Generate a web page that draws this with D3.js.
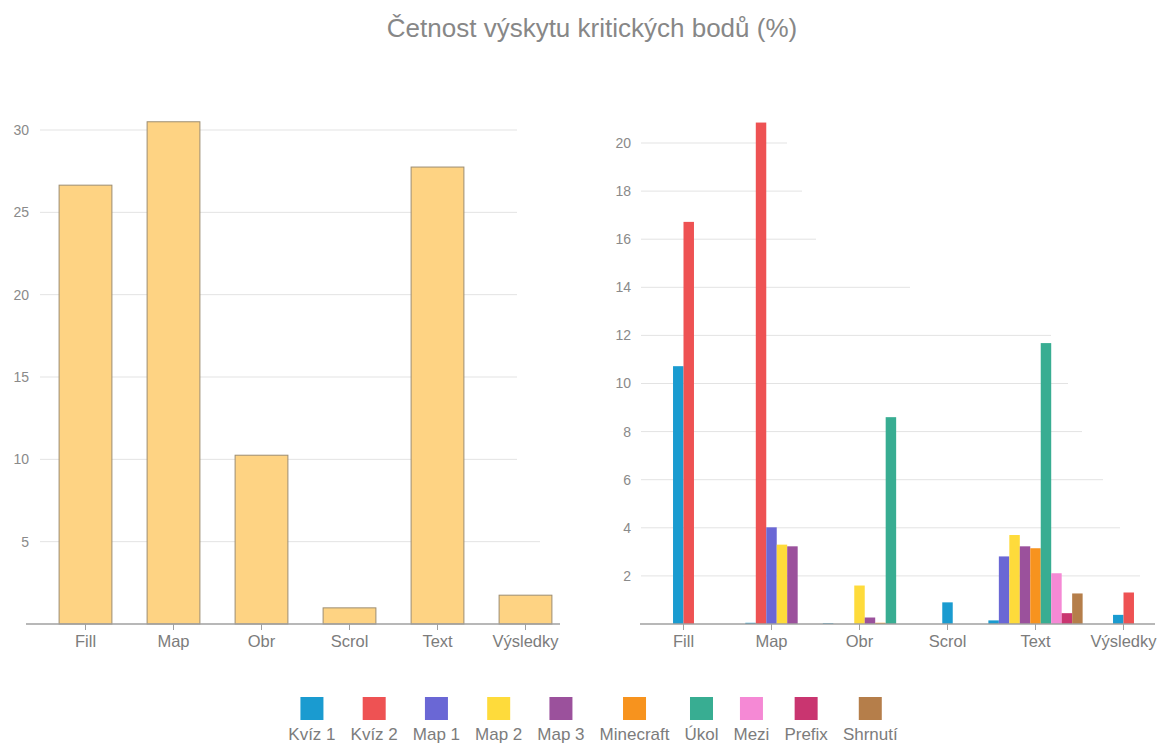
<!DOCTYPE html>
<html>
<head>
<meta charset="utf-8">
<script src="https://cdn.jsdelivr.net/npm/d3@7"></script>
<style>
  body { margin: 0; background: #fff; }
  text { font-family: "Liberation Sans", Arial, sans-serif; }
</style>
</head>
<body>
<div id="chart"></div>
<script>
const title = "Četnost výskytu kritických bodů (%)";
const categories = ["Fill", "Map", "Obr", "Scrol", "Text", "Výsledky"];

// left chart: total share per category
const totals = [26.65, 30.5, 10.25, 0.98, 27.75, 1.75];
const leftTicks = [5, 10, 15, 20, 25, 30];

// right chart: one row per category, null = series not present in that group
const seriesNames = ["Kvíz 1", "Kvíz 2", "Map 1", "Map 2", "Map 3", "Minecraft", "Úkol", "Mezi", "Prefix", "Shrnutí"];
const seriesColors = ["#1a9bd0", "#ee5253", "#6a67d5", "#fedb3b", "#9b519c", "#f7931e", "#38ad92", "#f589d5", "#c93570", "#b57e4a"];
const fillValues =     [10.72, 16.72, null, null, null, null, null, null, null, null];
const mapValues =      [0.05, 20.85, 4.02, 3.3, 3.23, null, null, null, null, null];
const obrValues =      [0.03, 0, 0, 1.6, 0.27, 0.05, 8.6, null, null, null];
const scrolValues =    [0.9, null, null, null, null, null, null, null, null, null];
const textValues =     [0.15, null, 2.81, 3.7, 3.23, 3.15, 11.68, 2.11, 0.45, 1.27];
const vysledkyValues = [0.38, 1.31, null, null, null, null, null, null, null, null];
const rightTicks = [2, 4, 6, 8, 10, 12, 14, 16, 18, 20];

const groups = [fillValues, mapValues, obrValues, scrolValues, textValues, vysledkyValues];

// gridline right ends (px), they are uneven in the original
const leftGridEnd = {5: 540, 10: 517, 15: 517, 20: 517, 25: 517, 30: 517};
const rightGridEnd = {2: 1140, 4: 1120, 6: 1103, 8: 1082, 10: 1068, 12: 1051, 14: 910, 16: 816, 18: 802, 20: 787};

const W = 1163, H = 745;
const svg = d3.select("#chart").append("svg")
    .attr("width", W)
    .attr("height", H);

svg.append("text")
    .attr("x", 592)
    .attr("y", 37)
    .attr("text-anchor", "middle")
    .style("font-size", "26px")
    .style("fill", "#878787")
    .text(title);

const baseY = 624;
const gridColor = "#e3e3e3";
const axisColor = "#a0a0a0";
const labelColor = "#7c7c7c";

function drawAxes(x, y, ticks, gridStart, gridEnd, labelX, baseStart, baseEnd) {
    svg.append("g").selectAll("line")
        .data(ticks)
        .enter().append("line")
        .attr("x1", gridStart)
        .attr("x2", d => gridEnd[d])
        .attr("y1", d => y(d))
        .attr("y2", d => y(d))
        .style("stroke", gridColor)
        .style("stroke-width", 1);

    svg.append("g").selectAll("text")
        .data(ticks)
        .enter().append("text")
        .attr("x", labelX)
        .attr("y", d => y(d))
        .attr("dy", "0.35em")
        .attr("text-anchor", "end")
        .style("font-size", "14px")
        .style("fill", "#8a8a8a")
        .text(d => d);

    return function() {
        svg.append("line")
            .attr("x1", baseStart).attr("x2", baseEnd)
            .attr("y1", baseY).attr("y2", baseY)
            .style("stroke", axisColor)
            .style("stroke-width", 1.5);

        const g = svg.append("g").selectAll("g")
            .data(categories)
            .enter().append("g")
            .attr("transform", d => `translate(${x(d) + x.bandwidth() / 2}, ${baseY})`);
        g.append("line")
            .attr("y1", 0).attr("y2", 6)
            .style("stroke", axisColor);
        g.append("text")
            .attr("y", 23)
            .attr("text-anchor", "middle")
            .style("font-size", "16.5px")
            .style("fill", labelColor)
            .text(d => d);
    };
}

// ---- left chart
const xLeft = d3.scaleBand().domain(categories).range([41.5, 569.5]).paddingInner(0.4).paddingOuter(0.2);
const yLeft = d3.scaleLinear().domain([0, 30]).range([baseY, 130]);
const finishLeft = drawAxes(xLeft, yLeft, leftTicks, 40, leftGridEnd, 29, 26, 560);

svg.append("g").selectAll("rect")
    .data(totals)
    .enter().append("rect")
    .attr("x", (d, i) => xLeft(categories[i]))
    .attr("y", d => yLeft(d))
    .attr("width", xLeft.bandwidth())
    .attr("height", d => baseY - yLeft(d))
    .style("fill", "#fed383")
    .style("stroke", "#9c8d72")
    .style("stroke-width", 1);
finishLeft();

// ---- right chart
const xRight = d3.scaleBand().domain(categories).range([639.5, 1167.5]);
const yRight = d3.scaleLinear().domain([0, 20]).range([baseY, 143]);
const finishRight = drawAxes(xRight, yRight, rightTicks, 641, rightGridEnd, 631, 640, 1155);
const barW = xRight.step() * 0.119;

groups.forEach((vals, gi) => {
    const present = seriesNames.filter((s, si) => vals[si] !== null);
    const cx = xRight(categories[gi]) + xRight.bandwidth() / 2;
    const inner = d3.scaleBand().domain(present)
        .range([cx - present.length * barW / 2, cx + present.length * barW / 2]);
    svg.append("g").selectAll("rect")
        .data(present)
        .enter().append("rect")
        .attr("x", d => inner(d))
        .attr("y", d => yRight(vals[seriesNames.indexOf(d)]))
        .attr("width", inner.bandwidth())
        .attr("height", d => baseY - yRight(vals[seriesNames.indexOf(d)]))
        .style("fill", d => seriesColors[seriesNames.indexOf(d)]);
});
finishRight();

// ---- legend
const legend = svg.append("g");
const items = legend.selectAll("g")
    .data(seriesNames)
    .enter().append("g");
items.append("text")
    .attr("y", 740)
    .attr("text-anchor", "middle")
    .style("font-size", "17px")
    .style("fill", labelColor)
    .text(d => d);

let widths = [];
items.select("text").each(function() { widths.push(this.getComputedTextLength()); });
const gap = 15;
const total = d3.sum(widths) + gap * (widths.length - 1);
let cursor = 593 - total / 2;
items.each(function(d, i) {
    const c = cursor + widths[i] / 2;
    d3.select(this).attr("transform", `translate(${c}, 0)`);
    cursor += widths[i] + gap;
});
items.append("rect")
    .attr("x", -11.5)
    .attr("y", 697)
    .attr("width", 23)
    .attr("height", 23)
    .style("fill", (d, i) => seriesColors[i]);
</script>
</body>
</html>
